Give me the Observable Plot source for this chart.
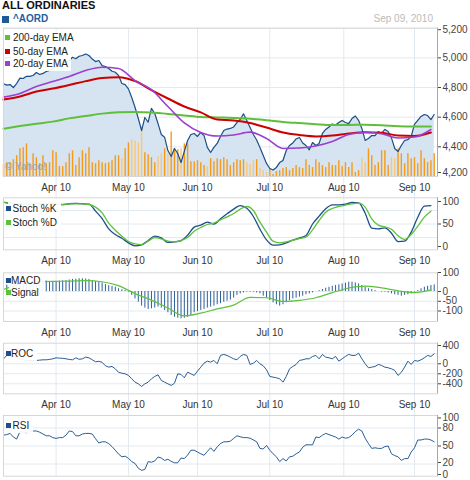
<!DOCTYPE html>
<html>
<head>
<meta charset="utf-8">
<script src="https://cdn.jsdelivr.net/npm/d3@7"></script>
<script src="https://cdn.jsdelivr.net/npm/@observablehq/plot@0.6"></script>
<style>
html,body{margin:0;padding:0;background:#fff;}
#chart{position:relative;width:470px;height:480px;overflow:hidden;font-family:"Liberation Sans",Arial,Helvetica,sans-serif;}
#chart svg{position:absolute;left:0;top:0;}
.t{position:absolute;white-space:nowrap;line-height:1;}
.box{position:absolute;background:rgba(255,255,255,0.92);}
.sq{position:absolute;}
</style>
</head>
<body>
<div id="chart"></div>
<script>
// ---------- data (trading-day index 0 = first day shown, ~10 Mar 2010) ----------
const monthIdx = [16, 38, 59, 81, 103.5, 125];
const monthLabels = ["Apr 10", "May 10", "Jun 10", "Jul 10", "Aug 10", "Sep 10"];

const close = [
4825,4816,4820,4800,4827,4863,4861,4876,4875,4881,
4901,4888,4895,4908,4915,4928,4942,4955,4962,4969,
4982,5004,4994,5011,5016,5026,5016,4992,4975,4982,
4948,4942,4928,4910,4903,4881,4827,4820,4791,4733,
4667,4591,4510,4598,4566,4659,4625,4557,4483,4465,
4375,4335,4389,4355,4294,4369,4443,4483,4490,4470,
4497,4476,4396,4362,4396,4423,4470,4510,4520,4524,
4534,4564,4584,4623,4578,4530,4483,4446,4396,4342,
4288,4254,4244,4261,4294,4308,4375,4409,4426,4453,
4463,4426,4409,4380,4429,4409,4423,4490,4517,4534,
4554,4547,4564,4578,4564,4557,4591,4608,4578,4524,
4443,4456,4476,4476,4503,4490,4517,4503,4460,4389,
4369,4409,4443,4449,4470,4551,4578,4605,4618,4611,
4584,4618];

const volume = [
240,280,280,340,420,560,580,660,260,460,
380,260,420,260,280,520,480,200,200,280,
460,520,220,380,520,460,580,280,260,320,
280,260,280,320,420,420,360,560,680,740,
720,680,1000,480,440,380,280,400,460,560,
440,900,560,540,560,660,660,300,300,320,
280,220,200,360,300,360,340,380,340,220,
280,340,320,340,280,240,320,340,160,120,
80,160,40,100,120,160,180,120,160,220,
180,160,340,220,180,340,280,220,180,280,
220,220,320,200,280,180,280,80,120,380,
280,560,420,220,280,520,520,220,380,360,
560,460,260,460,360,380,260,520,360,280,
320,460];

const emaDays = [0,5,10,15,20,25,30,35,40,45,50,55,60,65,70,75,80,85,90,95,100,105,110,115,120,125,130];
const ema200 = [4522,4540,4556,4570,4592,4608,4624,4633,4635,4632,4622,4612,4601,4598,4595,4590,4580,4568,4560,4553,4548,4548,4549,4546,4539,4537,4537];
const ema50  = [4719,4739,4773,4793,4817,4843,4864,4870,4844,4783,4726,4672,4632,4584,4578,4561,4530,4497,4480,4470,4476,4490,4499,4495,4476,4473,4497];
const ema20  = [4735,4760,4807,4841,4874,4915,4937,4928,4847,4785,4672,4561,4497,4473,4480,4499,4456,4389,4392,4406,4436,4483,4497,4488,4460,4466,4517];

const stochDays = [0,2,4,6,8,10,12,14,16,18,20,22,24,26,28,30,32,34,36,38,40,42,44,46,48,50,52,54,56,58,60,62,64,66,68,70,72,74,76,78,80,82,84,86,88,90,92,94,96,98,100,102,104,106,108,110,112,114,116,118,120,122,124,126,128,130];
const stochK = [
98.5,96,95,95,95,95,95,94,94,93,
95,96,95,94,78.5,62,39,26.7,18.5,8,
1.5,3.7,13.3,23,19,9,10.4,13.3,25,43,
47.4,54,50,61.5,72.6,83,91,85,66.7,38.5,
14.8,3,3.7,8,14,19,24.4,50,67.4,83.7,
92.6,92.6,94,97.8,97,74,40.7,39.3,41.5,29.6,
11,11.9,31.9,65,89.6,91];
const stochD = [
98,96,96,96,96,96,96,96,95,93.3,
94.8,94.8,94.8,93.3,87.4,74.8,51.9,36.3,23,11.1,
5.9,4.4,11.9,20,17,11.9,10.4,13.3,20,34,
42.2,48.9,51.9,59.3,66,73.3,83,88.9,80,54,
31.9,11.9,8,10.4,14,17.8,20.7,37,57.8,76.3,
84.4,88.9,91.9,94.8,96.3,87.4,61.5,47.4,43.7,38.5,
23.7,15.6,26.7,45.2,65.2,78.5];

const macd = [
30,33,36,39,42,45,47,49,51,53,
54,55,56,54,51,51,52,54,55,56,
59,62,63,65,65,64,62,56,51,49,
44,36,30,26,22,14,9,5,-3,-20,
-38,-55,-75,-85,-92,-89,-85,-80,-85,-97,
-109,-123,-132,-137,-140,-137,-132,-123,-109,-103,
-97,-92,-85,-80,-75,-68,-63,-55,-50,-44,
-34,-20,-12,-7,-3,-3,-3,-7,-12,-24,
-34,-46,-58,-68,-75,-68,-58,-46,-38,-34,
-29,-24,-17,-12,-7,0,5,10,17,22,
27,31,34,39,43,48,48,44,39,31,
22,14,10,5,0,-3,-3,-7,-12,-17,
-20,-24,-20,-17,-12,-3,5,14,22,27,
31,34];
const signal = [10,38,48,52,53,56,50,30,-11,-44,-85,-125,-111,-89,-70,-30,-32,-51,-45,-32,-6,18,28,19,4,-6,8];

const roc = [
100,167,200,150,120,100,80,70,65,65,
67,73,80,80,87,100,120,113,110,100,
87,80,120,90,100,133,120,80,40,50,
30,-40,-67,-53,-100,-170,-187,-200,-233,-300,
-367,-400,-453,-400,-367,-300,-253,-220,-333,-367,
-400,-433,-387,-200,-213,-280,-167,-200,-233,-147,
-67,13,53,33,67,0,167,187,167,133,
100,80,147,187,167,-13,13,67,0,-40,
-120,-253,-267,-280,-300,-367,-253,-100,-53,-13,
67,80,100,100,147,167,100,187,133,120,
100,147,53,100,147,187,167,167,213,100,
0,-80,-67,-53,-13,-33,-67,-80,-100,-133,
-233,-170,-67,53,-13,67,53,80,120,167,
147,200];

const rsi = [
68,69,71,65,61.5,74,73,72,74,75,
75,73,70,67,67,64,62.6,64,64,68,
75,74,67,67,70,71,71,70,62,55,
57,57,54,49,43,36.5,32,33,29.5,24,
21,13,9.5,11,24,23,25,31.7,30,26,
28,24.4,22,22,30,29,35,43,43,40,
37,34.5,41,47,41,48.6,54,57,57,58,
62.6,67,65.4,64,64,63,60,57,46,45,
51,43,37,32,24,29,25,32,33,37,
40,48,52,52,52,65,64,68,71,69,
67,65,61.5,65,63,64,68,74,78,75,
63,54,46,47,46,46,49,50,37,34,
32,26,29,29,40,47,60,60,61.5,61.5,
60,57];

const priceTicks = [4200, 4400, 4600, 4800, 5000, 5200];
const stochTicks = [0, 50, 100];
const macdTicks = [-100, -50, 0, 100];
const rocTicks = [-400, -200, 0, 400];
const rsiTicks = [0, 20, 50, 80, 100];

// ---------- drawing ----------
const days = d3.range(close.length);
const chart = document.getElementById("chart");
const W = 470, H = 480;
const FONT = '"Liberation Sans", Arial, Helvetica, sans-serif';
const GRID = "#e3e9f0", FRAME = "#d6d6d6", AXIS = "#a8a8a8", TXT = "#444";
const labelOf = d => monthLabels[monthIdx.indexOf(d)];
const isWeak = d => d > 0 && close[d - 1] - close[d] > 40;

function layer(top, bottom, yDomain, marks, opts = {}) {
  const svg = Plot.plot({
    width: W, height: H, marginLeft: 3, marginRight: 33,
    marginTop: top, marginBottom: H - bottom,
    x: opts.xAxis ? {domain: [0, 132]} : {domain: [0, 132], axis: null},
    y: opts.yAxis ? {domain: yDomain} : {domain: yDomain, axis: null},
    style: {background: "transparent", fontFamily: FONT, fontSize: "10px", overflow: "visible", maxWidth: "none"},
    marks
  });
  chart.appendChild(svg);
}
const xAxis = () => Plot.axisX(monthIdx, {anchor: "bottom", tickSize: 0, tickPadding: 7, tickFormat: labelOf, color: "#333", fontSize: 10});
const yAxis = (ticks, fmt, dy = 0) => Plot.axisY(ticks, {anchor: "right", tickSize: 3, tickPadding: 2, tickFormat: fmt, color: TXT, fontSize: 10, dy});
const frame = () => [Plot.frame({stroke: FRAME}), Plot.ruleX([132], {stroke: AXIS})];

// vertical month grid through all panels
layer(27.7, 475.7, [0, 1], [Plot.ruleX(monthIdx, {stroke: GRID})]);

// main panel: grid + area
layer(27.7, 176, [4200, 5200], [
  Plot.gridY(priceTicks, {stroke: GRID, strokeOpacity: 1}),
  Plot.areaY(days, {x: d => d, y1: () => 4200, y2: d => close[d], fill: "#d5e4f0"})
]);
// volume
layer(27.7, 176, [0, 3000], [
  Plot.ruleX(days.filter(d => !isWeak(d)), {x: d => d, y1: () => 0, y2: d => volume[d], stroke: "#f79a18", strokeWidth: 1.4}),
  Plot.ruleX(days.filter(isWeak), {x: d => d, y1: () => 0, y2: d => volume[d], stroke: "#fcc676", strokeWidth: 1.4})
]);
// main lines + axes
layer(27.7, 176, [4200, 5200], [
  Plot.lineY(days, {x: d => d, y: d => close[d], stroke: "#1d4f85", strokeWidth: 1.2}),
  Plot.line(emaDays, {x: d => d, y: (d, i) => ema200[i], stroke: "#5fbf3a", strokeWidth: 2, curve: "monotone-x"}),
  Plot.line(emaDays, {x: d => d, y: (d, i) => ema50[i], stroke: "#cc0000", strokeWidth: 2, curve: "monotone-x"}),
  Plot.line(emaDays, {x: d => d, y: (d, i) => ema20[i], stroke: "#9b3fd1", strokeWidth: 1.6, curve: "monotone-x"}),
  ...frame(),
  yAxis(priceTicks.filter(t => t !== 4200 && t !== 5200), d3.format(",")),
  yAxis([5200], d3.format(","), 1.5),
  yAxis([4200], d3.format(","), -4),
  xAxis()
], {xAxis: true, yAxis: true});

// stochastics
layer(197.3, 249.3, [-7.3, 108.2], [
  Plot.gridY([20, 50, 80], {stroke: GRID, strokeOpacity: 1}),
  Plot.line(stochDays, {x: d => d, y: (d, i) => stochK[i], stroke: "#1f4f88", strokeWidth: 1.3, curve: "monotone-x"}),
  Plot.line(stochDays, {x: d => d, y: (d, i) => stochD[i], stroke: "#5cc23a", strokeWidth: 1.3, curve: "monotone-x"}),
  ...frame(),
  yAxis(stochTicks, d => String(d)),
  xAxis()
], {xAxis: true, yAxis: true});

// MACD
layer(272.3, 321, [-153.8, 95.9], [
  Plot.gridY([0, -50, -100], {stroke: GRID, strokeOpacity: 1}),
  Plot.ruleX(days, {x: d => d, y1: () => 0, y2: d => macd[d], stroke: "#2d6098", strokeWidth: 1}),
  Plot.line(emaDays, {x: d => d, y: (d, i) => signal[i], stroke: "#5cc23a", strokeWidth: 1.2, curve: "monotone-x"}),
  ...frame(),
  yAxis(macdTicks.filter(t => t !== 100), d => String(d)),
  yAxis([100], d => String(d), 0.5),
  xAxis()
], {xAxis: true, yAxis: true});

// ROC
layer(342.7, 393.3, [-600, 412], [
  Plot.gridY([200, 0, -200, -400], {stroke: GRID, strokeOpacity: 1}),
  Plot.lineY(days, {x: d => d, y: d => roc[d], stroke: "#2a5d95", strokeWidth: 1}),
  ...frame(),
  yAxis(rocTicks.filter(t => t !== 400), d => String(d)),
  yAxis([400], d => String(d), 1.7),
  xAxis()
], {xAxis: true, yAxis: true});

// RSI
layer(415, 475.7, [-0.3, 100.8], [
  Plot.gridY([20, 50, 80], {stroke: GRID, strokeOpacity: 1}),
  Plot.lineY(days, {x: d => d, y: d => rsi[d], stroke: "#2a5d95", strokeWidth: 1}),
  ...frame(),
  yAxis([50, 80], d => String(d)),
  yAxis([20], d => String(d), -1.5),
  yAxis([100], d => String(d), 2),
  yAxis([0], d => String(d), -1.5)
], {yAxis: true});

// ---------- HTML text, legends ----------
function el(cls, css, text) {
  const d = document.createElement("div");
  d.className = cls;
  Object.assign(d.style, css);
  if (text != null) d.textContent = text;
  chart.appendChild(d);
  return d;
}
function box(l, t, w, h) { el("box", {left: l + "px", top: t + "px", width: w + "px", height: h + "px"}); }
function item(sqx, cy, color, text, tx) {
  el("sq", {left: sqx + "px", top: (cy - 3) + "px", width: "5px", height: "5px", background: color});
  el("t", {left: tx + "px", top: (cy - 4.9) + "px", fontSize: "10px", color: "#222"}, text);
}

el("t", {left: "2px", top: "0.3px", fontSize: "11px", fontWeight: "bold", color: "#111"}, "ALL ORDINARIES");
el("sq", {left: "2px", top: "15.5px", width: "7px", height: "7px", background: "#1f5a96"});
el("t", {left: "13px", top: "13.6px", fontSize: "10px", fontWeight: "bold", color: "#1f5f9f"}, "^AORD");
el("t", {right: "37px", top: "14px", fontSize: "10px", color: "#bbbbbb"}, "Sep 09, 2010");

// main legend
box(11, 31, 60, 40);
item(5, 37.7, "#5fbf3a", "200-day EMA", 13);
item(5, 51.7, "#cc0000", "50-day EMA", 13);
item(5, 64, "#9b3fd1", "20-day EMA", 13);
el("t", {left: "5px", top: "162px", fontSize: "10px", color: "#9aa3ad"}, "© Yahoo!");

// stoch legend
box(8, 199, 53, 30);
item(6, 209, "#1f4f88", "Stoch %K", 12.5);
item(6, 222.5, "#5cc23a", "Stoch %D", 12.5);

// MACD legend
box(9, 274, 36, 25);
item(6, 281, "#1f4f88", "MACD", 11);
item(6, 293.3, "#5cc23a", "Signal", 11);

// ROC legend
box(11, 347, 26, 14);
item(6, 354, "#1f4f88", "ROC", 11);

// RSI legend
box(11, 419, 22, 14);
item(6, 425.7, "#1f4f88", "RSI", 12.5);
</script>
</body>
</html>
